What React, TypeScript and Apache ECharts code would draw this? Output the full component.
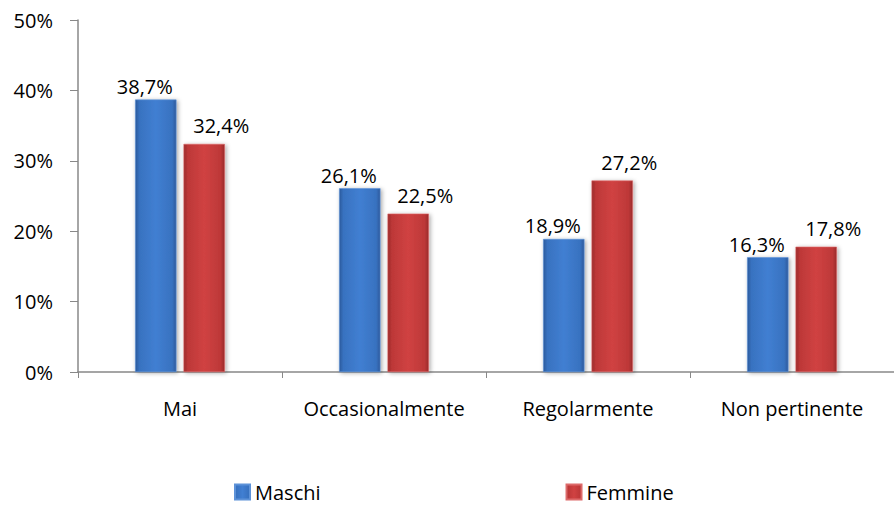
import React, { useEffect, useRef } from "react";
import * as echarts from "echarts";

const categories = ["Mai", "Occasionalmente", "Regolarmente", "Non pertinente"];
const maschi = [38.7, 26.1, 18.9, 16.3];
const femmine = [32.4, 22.5, 27.2, 17.8];
const yTicks = [0, 10, 20, 30, 40, 50];

const FONT = "'Open Sans', 'Noto Sans', sans-serif";

function grad(edge: string, mid: string, light: string) {
  return new echarts.graphic.LinearGradient(0, 0, 1, 0, [
    { offset: 0, color: edge },
    { offset: 0.1, color: mid },
    { offset: 0.5, color: light },
    { offset: 0.9, color: mid },
    { offset: 1, color: edge },
  ]);
}

export default function App() {
  const ref = useRef<HTMLDivElement>(null);
  useEffect(() => {
    const chart = echarts.init(ref.current!, undefined, { renderer: "svg" });
    const fmt = (p: any) => String(p.value.toFixed(1)).replace(".", ",") + "%";
    const label = { show: true, position: "top", distance: 3, color: "#000", fontSize: 20, fontFamily: FONT, formatter: fmt };
    chart.setOption({
      animation: false,
      textStyle: { fontFamily: FONT },
      grid: { left: 78, right: -3, top: 20, bottom: 135, containLabel: false },
      legend: {
        top: 482,
        left: 234,
        padding: 0,
        itemWidth: 15,
        itemHeight: 15,
        itemGap: 245,
        icon: "rect",
        textStyle: { fontSize: 20, lineHeight: 20, color: "#000", fontFamily: FONT },
        data: ["Maschi", "Femmine"],
      },
      xAxis: {
        type: "category",
        data: categories,
        axisLine: { lineStyle: { color: "#888", width: 1.5 } },
        axisTick: { show: true, alignWithLabel: false, length: 6, lineStyle: { color: "#888" } },
        axisLabel: { color: "#000", fontSize: 20, margin: 26, fontFamily: FONT, interval: 0, hideOverlap: false },
      },
      yAxis: {
        type: "value",
        min: 0,
        max: 50,
        interval: 10,
        splitLine: { show: false },
        axisLine: { show: true, lineStyle: { color: "#888", width: 1.5 } },
        axisTick: { show: true, length: 8, lineStyle: { color: "#888" } },
        axisLabel: {
          color: "#000",
          fontSize: 20,
          margin: 25,
          fontFamily: FONT,
          formatter: (v: number) => (yTicks.includes(v) ? v + "%" : ""),
        },
      },
      series: [
        {
          name: "Maschi",
          type: "bar",
          data: maschi,
          barWidth: "20.3%",
          barGap: "17%",
          itemStyle: {
            color: grad("#2c5a9c", "#3872c0", "#417fd2"),
            borderColor: "#5d92d8",
            borderWidth: 0.6,
            shadowColor: "rgba(0,0,0,0.35)",
            shadowBlur: 4,
            shadowOffsetX: 1.5,
            shadowOffsetY: 1,
          },
          label: { ...label, offset: [-11, 0] },
        },
        {
          name: "Femmine",
          type: "bar",
          data: femmine,
          barWidth: "20.3%",
          itemStyle: {
            color: grad("#9a2a2a", "#bd3838", "#d04242"),
            borderColor: "#dd6a6a",
            borderWidth: 0.6,
            shadowColor: "rgba(0,0,0,0.35)",
            shadowBlur: 4,
            shadowOffsetX: 1.5,
            shadowOffsetY: 1,
          },
          label: { ...label, offset: [17, -5] },
        },
      ],
    });
    return () => chart.dispose();
  }, []);
  return <div ref={ref} style={{ width: 894, height: 507, position: "absolute", left: 0, top: 0 }} />;
}
